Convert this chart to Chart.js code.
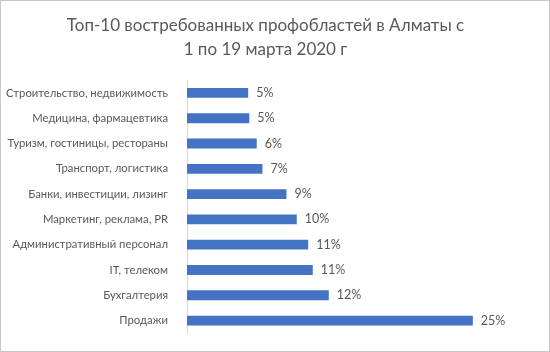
<!DOCTYPE html>
<html>
<head>
<meta charset="utf-8">
<script src="https://cdn.jsdelivr.net/npm/chart.js@4"></script>
<style>
  html, body { margin: 0; padding: 0; background: #fff; }
  #wrap { width: 550px; height: 352px; box-sizing: border-box; border: 1px solid #c8c8c8; }
</style>
</head>
<body>
<div id="wrap"><canvas id="myChart"></canvas></div>
<script>
const categories = [
    'Строительство, недвижимость',
    'Медицина, фармацевтика',
    'Туризм, гостиницы, рестораны',
    'Транспорт, логистика',
    'Банки, инвестиции, лизинг',
    'Маркетинг, реклама, PR',
    'Административный персонал',
    'IT, телеком',
    'Бухгалтерия',
    'Продажи'
];
// shares in %
const shares = [5.35, 5.45, 6.1, 6.6, 8.7, 9.6, 10.6, 11.0, 12.4, 25.0];
const titleLines = ['Топ-10 востребованных профобластей в Алматы с', '1 по 19 марта 2020 г'];

const fontFamily = 'Lato, "Noto Sans", sans-serif';
const textColor = '#595959';

// labels at the end of each bar
const barLabels = {
    id: 'barLabels',
    afterDatasetsDraw(chart) {
        const ctx = chart.ctx;
        ctx.save();
        ctx.font = '12.5px ' + fontFamily;
        ctx.fillStyle = textColor;
        ctx.textBaseline = 'middle';
        ctx.textAlign = 'left';
        chart.getDatasetMeta(0).data.forEach((bar, i) => {
            ctx.fillText(Math.round(shares[i]) + '%', bar.x + 8, bar.y);
        });
        ctx.restore();
    }
};

const data = {
    labels: categories,
    datasets: [{
        data: shares,
        backgroundColor: '#4472c4',
        borderWidth: 0,
        barPercentage: 0.39,
        categoryPercentage: 1
    }]
};

const config = {
    type: 'bar',
    data,
    options: {
        indexAxis: 'y',
        responsive: true,
        maintainAspectRatio: false,
        animation: false,
        layout: { padding: { left: 0, right: 19, top: 0, bottom: 7 } },
        plugins: {
            legend: { display: false },
            tooltip: { enabled: false },
            title: {
                display: true,
                text: titleLines,
                color: textColor,
                font: { family: fontFamily, size: 17, weight: 'normal', lineHeight: 1.42 },
                padding: { top: 12, bottom: 19 }
            }
        },
        scales: {
            x: { display: false, min: 0, max: 30 },
            y: {
                grid: { display: false },
                border: { display: true, color: '#d9d9d9', width: 1 },
                ticks: { color: textColor, font: { family: fontFamily, size: 11.3 }, padding: 11 },
                afterFit(scale) { scale.width = 186; }
            }
        }
    },
    plugins: [barLabels]
};

new Chart(document.getElementById('myChart'), config);
</script>
</body>
</html>
